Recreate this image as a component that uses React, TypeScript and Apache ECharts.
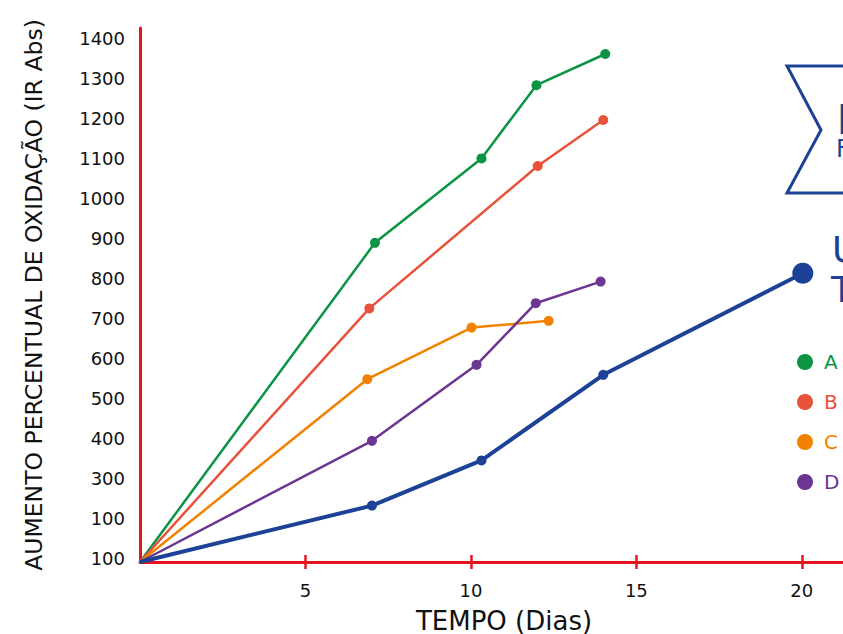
import React, { useEffect, useRef } from "react";
import * as echarts from "echarts";

// ---- data ----
const seriesNames = ["A", "B", "C", "D"];
const seriesColors = ["#0b9444", "#e8523b", "#f08200", "#6c3591"];
const blueName = "Controle";
const blueColor = "#1b4296";

const serieA: [number, number][] = [[0, 100], [7.1, 898], [10.32, 1109], [11.98, 1292], [14.06, 1370]];
const serieB: [number, number][] = [[0, 100], [6.93, 734], [12.02, 1090], [14.0, 1205]];
const serieC: [number, number][] = [[0, 100], [6.87, 557], [10.02, 686], [12.35, 703]];
const serieD: [number, number][] = [[0, 100], [7.01, 403], [10.17, 593], [11.96, 747], [13.92, 801]];
const serieBlue: [number, number][] = [[0, 100], [7.01, 241], [10.32, 354], [14.0, 568], [20.03, 822]];

const xTickValues = [5, 10, 15, 20];
const yTickValues = [100, 200, 300, 400, 500, 600, 700, 800, 900, 1000, 1100, 1200, 1300, 1400];
const yTickLabels = ["100", "100", "300", "400", "500", "600", "700", "800", "900", "1000", "1100", "1200", "1300", "1400"];

const xTitle = "TEMPO (Dias)";
const yTitle = "AUMENTO PERCENTUAL DE OXIDAÇÃO (IR Abs)";

const FONT = "DejaVu Sans";
const AXIS_RED = "#e4141f";

export default function App() {
  const ref = useRef<HTMLDivElement>(null);

  useEffect(() => {
    if (!ref.current) return;
    const chart = echarts.init(ref.current, undefined, { renderer: "svg" });
    const allData = [serieA, serieB, serieC, serieD];

    const lineSeries: any[] = allData.map((d, i) => ({
      name: seriesNames[i],
      type: "line",
      data: d,
      xAxisIndex: 0,
      yAxisIndex: 0,
      symbol: "circle",
      symbolSize: (_v: any, p: any) => (p.dataIndex === 0 ? 0 : 10),
      showAllSymbol: true,
      lineStyle: { color: seriesColors[i], width: 2.5 },
      itemStyle: { color: seriesColors[i] },
      z: 3 + i,
    }));
    lineSeries.push({
      name: blueName,
      type: "line",
      data: serieBlue,
      symbol: "circle",
      symbolSize: (_v: any, p: any) =>
        p.dataIndex === 0 ? 0 : p.dataIndex === serieBlue.length - 1 ? 21 : 10,
      lineStyle: { color: blueColor, width: 4 },
      itemStyle: { color: blueColor },
      z: 8,
    });

    chart.setOption({
      animation: false,
      textStyle: { fontFamily: FONT },
      grid: { left: 140, top: 28, width: 728, height: 534, containLabel: false, outerBoundsMode: "none" },
      xAxis: [
        {
          type: "value",
          min: 0,
          max: 22,
          interval: 5,
          position: "bottom",
          name: xTitle,
          nameLocation: "middle",
          nameGap: 46,
          nameTextStyle: { fontSize: 26, color: "#111", fontFamily: FONT },
          axisLine: { show: true, onZero: false, lineStyle: { color: AXIS_RED, width: 3 } },
          axisTick: { show: true, length: 7, customValues: xTickValues, lineStyle: { color: AXIS_RED, width: 2.5 } },
          axisLabel: { show: true, customValues: xTickValues, margin: 19, fontSize: 18, color: "#111", fontFamily: FONT },
          splitLine: { show: false },
        },
        {
          type: "value",
          min: 0,
          max: 22,
          interval: 5,
          position: "bottom",
          axisLine: { show: false, onZero: false },
          axisTick: { show: true, inside: true, length: 7, customValues: xTickValues, lineStyle: { color: AXIS_RED, width: 2.5 } },
          axisLabel: { show: false },
          splitLine: { show: false },
        },
      ],
      yAxis: {
        type: "value",
        min: 100,
        max: 1435,
        interval: 100,
        name: yTitle,
        nameLocation: "middle",
        nameGap: 94,
        nameTextStyle: { fontSize: 23.5, color: "#111", fontFamily: FONT },
        axisLine: { show: true, onZero: false, lineStyle: { color: AXIS_RED, width: 3 } },
        axisTick: { show: false },
        axisLabel: {
          show: true,
          customValues: yTickValues,
          margin: 15,
          fontSize: 18,
          color: "#111",
          fontFamily: FONT,
          verticalAlign: "bottom",
          lineHeight: 8,
          formatter: (v: number) => {
            const i = yTickValues.indexOf(v);
            return i >= 0 ? yTickLabels[i] : "";
          },
        },
        splitLine: { show: false },
      },
      legend: {
        orient: "vertical",
        left: 792,
        top: 347,
        icon: "circle",
        itemWidth: 16,
        itemHeight: 16,
        itemGap: 20,
        selectedMode: false,
        textStyle: { fontSize: 20, fontFamily: FONT, padding: [0, 0, 0, 6], lineHeight: 20 },
        data: seriesNames.map((n, i) => ({
          name: n,
          textStyle: { color: seriesColors[i], fontSize: 20, fontFamily: FONT, padding: [0, 0, 0, 6], lineHeight: 20 },
        })),
      },
      graphic: [
        {
          type: "polyline",
          shape: { points: [[880, 66], [787, 66], [821, 130], [787, 193], [880, 193]] },
          style: { stroke: blueColor, lineWidth: 3, fill: "none" },
        },
        {
          type: "text",
          left: 837,
          top: 100,
          style: { text: "I", fontSize: 40, fontWeight: "bold", fill: blueColor, fontFamily: FONT },
        },
        {
          type: "text",
          left: 836,
          top: 137,
          style: { text: "F", fontSize: 24, fill: blueColor, fontFamily: FONT },
        },
        {
          type: "text",
          left: 832,
          top: 231,
          style: { text: "U", fontSize: 36, fill: blueColor, fontFamily: FONT },
        },
        {
          type: "text",
          left: 831,
          top: 271,
          style: { text: "T", fontSize: 36, fill: blueColor, fontFamily: FONT },
        },
      ],
      series: lineSeries,
    });

    return () => chart.dispose();
  }, []);

  return (
    <div
      ref={ref}
      style={{ position: "absolute", left: 0, top: 0, width: 843, height: 634, background: "#fff" }}
    />
  );
}
